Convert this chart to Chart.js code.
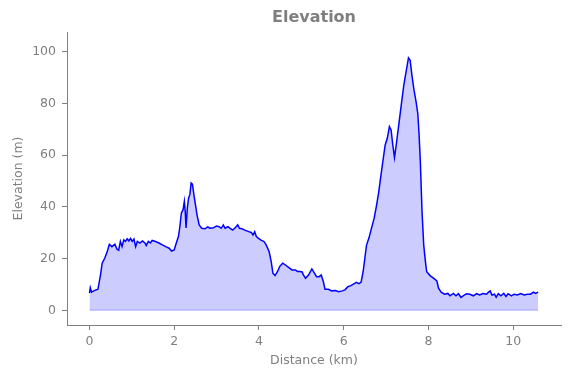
<!DOCTYPE html>
<html>
<head>
<meta charset="utf-8">
<script src="https://cdn.jsdelivr.net/npm/chart.js@4/dist/chart.umd.min.js"></script>
<style>
html,body{margin:0;padding:0;background:#fff;}
#wrap{width:571px;height:378px;}
</style>
</head>
<body>
<div id="wrap"><canvas id="c" width="571" height="378"></canvas></div>
<script>
const chartTitle = "Elevation";
const xAxisLabel = "Distance (km)";
const yAxisLabel = "Elevation (m)";

const distanceKm = [
  0, 0.02, 0.05, 0.1, 0.2, 0.26, 0.3, 0.36, 0.42, 0.47, 0.53, 0.6, 0.65, 0.69, 0.73, 0.77,
  0.81, 0.85, 0.89, 0.93, 0.97, 1.01, 1.05, 1.09, 1.13, 1.19, 1.25, 1.31, 1.34, 1.39, 1.44,
  1.48, 1.56, 1.64, 1.72, 1.8, 1.88, 1.94, 2.0, 2.05, 2.1, 2.13, 2.17, 2.21, 2.24, 2.26,
  2.28, 2.31, 2.34, 2.37, 2.4, 2.43, 2.47, 2.51, 2.54, 2.59, 2.65, 2.73, 2.79, 2.85, 2.93,
  3.0, 3.06, 3.11, 3.16, 3.2, 3.27, 3.32, 3.38, 3.44, 3.5, 3.54, 3.6, 3.68, 3.76, 3.82,
  3.86, 3.9, 3.94, 3.99, 4.04, 4.12, 4.17, 4.24, 4.29, 4.33, 4.38, 4.44, 4.49, 4.56, 4.62,
  4.7, 4.78, 4.86, 4.91, 4.97, 5.02, 5.05, 5.1, 5.17, 5.25, 5.31, 5.36, 5.42, 5.47, 5.52,
  5.56, 5.64, 5.72, 5.81, 5.88, 5.97, 6.03, 6.1, 6.17, 6.25, 6.3, 6.36, 6.41, 6.46, 6.5,
  6.54, 6.6, 6.65, 6.72, 6.77, 6.83, 6.87, 6.93, 6.98, 7.03, 7.08, 7.12, 7.16, 7.2, 7.24,
  7.3, 7.36, 7.42, 7.48, 7.53, 7.57, 7.61, 7.66, 7.71, 7.75, 7.78, 7.81, 7.85, 7.89, 7.93,
  7.96, 8.04, 8.12, 8.2, 8.24, 8.3, 8.38, 8.46, 8.51, 8.59, 8.65, 8.71, 8.77, 8.82, 8.9,
  8.98, 9.06, 9.14, 9.21, 9.29, 9.37, 9.42, 9.46, 9.5, 9.56, 9.6, 9.65, 9.71, 9.78, 9.83,
  9.88, 9.96, 10.02, 10.1, 10.18, 10.26, 10.34, 10.41, 10.48, 10.53, 10.59
];
const elevationM = [
  6.6, 8.7, 7.0, 7.5, 8.1, 13.6, 18.2, 20.1, 22.7, 25.5, 24.6, 25.5, 23.6, 23.2, 26.6, 24.6,
  27.2, 26.6, 27.6, 26.8, 27.8, 26.6, 27.5, 24.6, 26.6, 26.0, 26.8, 26.0, 25.0, 26.6, 26.0,
  27.0, 26.6, 26.0, 25.3, 24.6, 24.0, 22.9, 23.3, 26.0, 28.5, 31.8, 37.6, 38.9, 42.1, 38.3,
  31.8, 39.5, 43.4, 44.7, 49.2, 48.8, 44.1, 40.0, 36.8, 33.0, 31.7, 31.5, 32.2, 31.7, 31.9,
  32.6, 32.3, 31.7, 33.0, 31.7, 32.3, 31.7, 31.0, 31.9, 33.0, 31.7, 31.5, 30.9, 30.4, 30.1,
  29.1, 30.4, 28.5, 27.8, 27.2, 26.6, 25.3, 22.7, 18.8, 14.3, 13.4, 15.0, 16.9, 18.2, 17.6,
  16.6, 15.6, 15.6, 15.0, 15.0, 14.8, 13.7, 12.4, 13.6, 16.0, 14.4, 13.0, 13.0, 13.6, 11.1,
  8.1, 8.1, 7.5, 7.6, 7.2, 7.5, 7.9, 9.1, 9.5, 10.3, 10.8, 10.3, 10.8, 14.9, 20.1,
  25.2, 28.1, 31.3, 35.6, 40.0, 45.9, 51.0, 58.1, 63.9, 66.5, 71.0, 69.7, 63.9, 59.0, 63.9,
  71.6, 79.4, 87.1, 92.9, 97.6, 96.7, 91.0, 85.2, 80.6, 76.1, 68.0, 57.4, 38.1, 25.2, 18.8,
  14.9, 13.4, 12.4, 11.3, 8.5, 7.0, 6.2, 6.5, 5.6, 6.5, 5.6, 6.4, 5.0, 5.6, 6.4,
  6.2, 5.6, 6.4, 5.9, 6.5, 6.2, 7.0, 7.5, 5.9, 6.2, 5.0, 6.4, 5.6, 6.5, 5.3,
  6.4, 5.6, 6.2, 5.9, 6.5, 5.9, 6.2, 6.2, 7.0, 6.5, 7.0
];
const xTicks = [0, 2, 4, 6, 8, 10];
const yTicks = [0, 20, 40, 60, 80, 100];

const points = distanceKm.map((d, i) => ({x: d, y: elevationM[i]}));
const baseline = [
  {x: distanceKm[0], y: 0},
  {x: distanceKm[distanceKm.length - 1], y: 0}
];

const grey = '#7f7f7f';
const fontFam = '"DejaVu Sans", sans-serif';

new Chart(document.getElementById('c'), {
  type: 'line',
  data: {
    datasets: [
      {
        data: points,
        borderColor: '#0000ff',
        borderWidth: 1.5,
        backgroundColor: 'rgba(0,0,255,0.2)',
        fill: 'origin',
        pointRadius: 0,
        tension: 0
      },
      {
        data: baseline,
        borderColor: 'rgba(0,0,255,0.18)',
        borderWidth: 1.5,
        fill: false,
        pointRadius: 0
      }
    ]
  },
  options: {
    responsive: false,
    animation: false,
    devicePixelRatio: 1,
    layout: {padding: {left: 0, right: 10, top: 0, bottom: 0}},
    plugins: {
      legend: {display: false},
      tooltip: {enabled: false},
      title: {
        display: true,
        fullSize: false,
        text: chartTitle,
        color: grey,
        font: {family: fontFam, size: 16, weight: 'bold', lineHeight: 1.2},
        padding: {top: 8.5, bottom: 4.3}
      }
    },
    scales: {
      x: {
        type: 'linear',
        min: -0.53,
        max: 11.13,
        afterBuildTicks: s => { s.ticks = xTicks.map(v => ({value: v})); },
        afterFit: s => { s.height = 53; },
        ticks: {
          color: grey,
          font: {family: fontFam, size: 12.5},
          padding: 4,
          maxRotation: 0,
          callback: v => String(v)
        },
        grid: {display: true, drawOnChartArea: false, drawTicks: true, tickLength: 5, color: grey},
        border: {display: true, color: grey, width: 1},
        title: {
          display: true,
          text: xAxisLabel,
          color: grey,
          font: {family: fontFam, size: 12.5, lineHeight: 1.2},
          padding: {top: 0, bottom: 9.5}
        }
      },
      y: {
        type: 'linear',
        min: -5.7,
        max: 107.6,
        afterBuildTicks: s => { s.ticks = yTicks.map(v => ({value: v})); },
        afterFit: s => { s.width = 67; },
        ticks: {
          color: grey,
          font: {family: fontFam, size: 12.5},
          padding: 6,
          callback: v => String(v)
        },
        grid: {display: true, drawOnChartArea: false, drawTicks: true, tickLength: 5, color: grey},
        border: {display: true, color: grey, width: 1},
        title: {
          display: true,
          text: yAxisLabel,
          color: grey,
          font: {family: fontFam, size: 12.5, lineHeight: 1.2},
          padding: {top: 11, bottom: 0}
        }
      }
    }
  }
});
</script>
</body>
</html>
